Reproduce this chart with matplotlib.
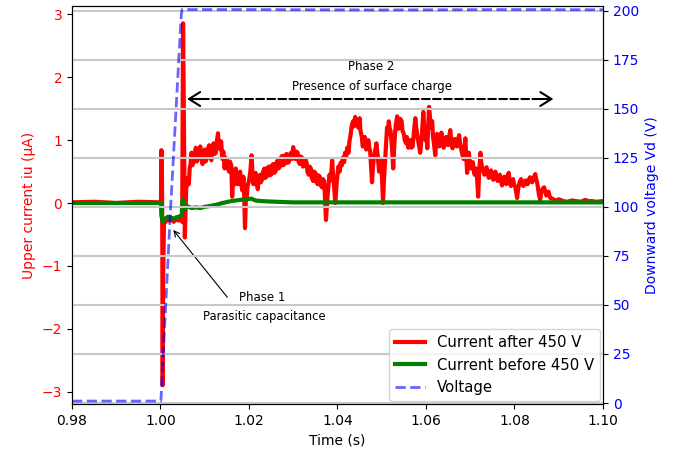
import matplotlib
matplotlib.use("Agg")
import matplotlib.pyplot as plt

# ---- data: (time s, current uA) ----
red_points = [
    (0.9800, 0.01), (0.9850, 0.02), (0.9900, 0.00), (0.9950, 0.02), (0.9998, 0.01),
    (1.0001, 0.00), (1.0002, 0.84), (1.0003, 0.80), (1.0004, -0.40), (1.0005, -2.90),
    (1.0006, -1.20), (1.0008, -0.25), (1.0012, -0.30), (1.0016, -0.22), (1.0020, -0.28),
    (1.0025, -0.24), (1.0030, -0.30), (1.0035, -0.23), (1.0040, -0.28), (1.0045, -0.25),
    (1.0049, -0.30), (1.0051, 2.86), (1.0053, 1.30), (1.0055, -0.55),
    (1.0058, 0.20), (1.0060, 0.35), (1.0062, 0.40), (1.0064, 0.30), (1.0066, 0.55),
    (1.0068, 0.62), (1.0070, 0.80), (1.0072, 0.60), (1.0075, 0.65), (1.0077, 0.78),
    (1.0080, 0.88), (1.0082, 0.66), (1.0085, 0.70), (1.0087, 0.82), (1.0090, 0.90),
    (1.0092, 0.74), (1.0095, 0.62), (1.0097, 0.80), (1.0100, 0.85), (1.0102, 0.66),
    (1.0105, 0.72), (1.0107, 0.86), (1.0110, 0.92), (1.0112, 0.74), (1.0115, 0.68),
    (1.0117, 0.86), (1.0120, 0.95), (1.0122, 0.78), (1.0125, 0.80), (1.0127, 0.96),
    (1.0130, 1.11), (1.0132, 0.90), (1.0135, 0.85), (1.0137, 0.98), (1.0140, 0.70),
    (1.0142, 0.82), (1.0145, 0.55), (1.0147, 0.72), (1.0150, 0.68), (1.0152, 0.58),
    (1.0155, 0.50), (1.0157, 0.66), (1.0160, 0.60), (1.0162, 0.10), (1.0164, 0.38),
    (1.0166, 0.45), (1.0168, 0.30), (1.0170, 0.55), (1.0172, 0.40), (1.0175, 0.30),
    (1.0177, 0.46), (1.0180, 0.50), (1.0182, 0.32), (1.0185, 0.20), (1.0187, 0.42),
    (1.0188, 0.40), (1.0191, -0.40), (1.0193, 0.05), (1.0195, 0.10), (1.0197, 0.28),
    (1.0200, 0.35), (1.0203, 0.50), (1.0206, 0.76), (1.0208, 0.45), (1.0210, 0.30),
    (1.0212, 0.44), (1.0215, 0.48), (1.0217, 0.32), (1.0220, 0.22), (1.0222, 0.40),
    (1.0225, 0.45), (1.0227, 0.33), (1.0230, 0.38), (1.0232, 0.50), (1.0235, 0.55),
    (1.0237, 0.40), (1.0240, 0.42), (1.0242, 0.56), (1.0245, 0.58), (1.0247, 0.44),
    (1.0250, 0.45), (1.0252, 0.60), (1.0255, 0.62), (1.0257, 0.48), (1.0260, 0.50),
    (1.0262, 0.64), (1.0265, 0.68), (1.0267, 0.55), (1.0270, 0.58), (1.0272, 0.72),
    (1.0275, 0.75), (1.0277, 0.60), (1.0280, 0.62), (1.0282, 0.76), (1.0285, 0.78),
    (1.0287, 0.64), (1.0290, 0.65), (1.0292, 0.76), (1.0295, 0.80), (1.0297, 0.70),
    (1.0300, 0.89), (1.0302, 0.74), (1.0305, 0.70), (1.0307, 0.82), (1.0310, 0.80),
    (1.0312, 0.66), (1.0315, 0.62), (1.0317, 0.74), (1.0320, 0.72), (1.0322, 0.58),
    (1.0325, 0.60), (1.0327, 0.70), (1.0330, 0.65), (1.0332, 0.50), (1.0335, 0.45),
    (1.0337, 0.58), (1.0340, 0.55), (1.0342, 0.40), (1.0345, 0.35), (1.0347, 0.50),
    (1.0350, 0.48), (1.0352, 0.34), (1.0355, 0.30), (1.0357, 0.44), (1.0360, 0.42),
    (1.0362, 0.28), (1.0365, 0.25), (1.0367, 0.38), (1.0370, 0.35), (1.0374, -0.27),
    (1.0378, 0.15), (1.0380, 0.30), (1.0382, 0.45), (1.0385, 0.36), (1.0388, 0.68),
    (1.0390, 0.45), (1.0392, 0.30), (1.0395, 0.00), (1.0398, 0.30), (1.0400, 0.45),
    (1.0402, 0.58), (1.0405, 0.50), (1.0407, 0.64), (1.0410, 0.60), (1.0412, 0.72),
    (1.0415, 0.65), (1.0417, 0.80), (1.0420, 0.75), (1.0422, 0.88), (1.0425, 0.80),
    (1.0427, 0.98), (1.0430, 1.10), (1.0432, 1.22), (1.0435, 1.30), (1.0437, 1.22),
    (1.0440, 1.37), (1.0442, 1.24), (1.0445, 1.30), (1.0447, 1.20), (1.0450, 1.35),
    (1.0452, 1.15), (1.0455, 1.05), (1.0457, 0.90), (1.0460, 0.95), (1.0462, 1.05),
    (1.0465, 0.85), (1.0467, 0.96), (1.0470, 1.00), (1.0472, 0.88), (1.0474, 0.82),
    (1.0478, 0.33), (1.0480, 0.55), (1.0482, 0.70), (1.0485, 0.82), (1.0488, 0.95),
    (1.0491, 0.75), (1.0494, 0.50), (1.0497, 0.64), (1.0499, 0.70), (1.0503, 0.00),
    (1.0505, 0.35), (1.0507, 0.60), (1.0510, 0.95), (1.0512, 1.20), (1.0514, 1.10),
    (1.0516, 1.30), (1.0518, 1.18), (1.0520, 1.15), (1.0523, 0.90), (1.0526, 0.55),
    (1.0528, 0.85), (1.0530, 1.10), (1.0532, 1.25), (1.0535, 1.38), (1.0537, 1.18),
    (1.0540, 1.20), (1.0542, 1.34), (1.0545, 1.30), (1.0547, 1.15), (1.0550, 1.10),
    (1.0552, 1.00), (1.0555, 0.95), (1.0557, 1.05), (1.0560, 0.88), (1.0562, 0.98),
    (1.0565, 1.00), (1.0567, 0.88), (1.0570, 0.90), (1.0573, 1.15), (1.0576, 1.35),
    (1.0578, 1.20), (1.0581, 1.05), (1.0584, 0.92), (1.0587, 0.80), (1.0589, 0.95),
    (1.0591, 1.10), (1.0594, 1.45), (1.0596, 1.20), (1.0599, 1.00), (1.0601, 1.12),
    (1.0603, 0.87), (1.0605, 1.20), (1.0607, 1.53), (1.0610, 1.30), (1.0612, 1.20),
    (1.0614, 1.30), (1.0616, 1.05), (1.0618, 0.95), (1.0621, 0.76), (1.0623, 0.95),
    (1.0625, 1.10), (1.0627, 0.98), (1.0630, 0.90), (1.0632, 1.02), (1.0635, 1.12),
    (1.0637, 0.98), (1.0640, 0.88), (1.0642, 0.98), (1.0645, 1.05), (1.0647, 0.94),
    (1.0650, 0.92), (1.0652, 1.04), (1.0655, 1.16), (1.0657, 1.00), (1.0660, 0.87),
    (1.0662, 0.96), (1.0665, 1.02), (1.0667, 0.94), (1.0670, 0.90), (1.0672, 1.00),
    (1.0675, 1.08), (1.0677, 0.95), (1.0680, 0.85), (1.0682, 0.78), (1.0685, 0.70),
    (1.0687, 0.88), (1.0689, 1.03), (1.0691, 0.75), (1.0693, 0.48), (1.0695, 0.66),
    (1.0697, 0.80), (1.0699, 0.66), (1.0701, 0.55), (1.0703, 0.62), (1.0706, 0.65),
    (1.0708, 0.52), (1.0710, 0.45), (1.0712, 0.52), (1.0714, 0.55), (1.0716, 0.35),
    (1.0718, 0.10), (1.0720, 0.45), (1.0723, 0.80), (1.0725, 0.65), (1.0727, 0.55),
    (1.0730, 0.50), (1.0732, 0.45), (1.0734, 0.52), (1.0737, 0.57), (1.0739, 0.48),
    (1.0742, 0.40), (1.0744, 0.46), (1.0747, 0.52), (1.0749, 0.44), (1.0752, 0.37),
    (1.0754, 0.44), (1.0757, 0.50), (1.0759, 0.42), (1.0762, 0.35), (1.0764, 0.40),
    (1.0767, 0.45), (1.0769, 0.36), (1.0772, 0.28), (1.0774, 0.36), (1.0777, 0.42),
    (1.0779, 0.34), (1.0782, 0.30), (1.0784, 0.40), (1.0787, 0.48), (1.0789, 0.36),
    (1.0792, 0.27), (1.0794, 0.32), (1.0797, 0.38), (1.0799, 0.30), (1.0802, 0.25),
    (1.0806, 0.08), (1.0808, 0.20), (1.0810, 0.28), (1.0812, 0.34), (1.0815, 0.38),
    (1.0817, 0.31), (1.0820, 0.27), (1.0822, 0.32), (1.0825, 0.36), (1.0827, 0.30),
    (1.0830, 0.30), (1.0832, 0.36), (1.0835, 0.41), (1.0837, 0.35), (1.0840, 0.33),
    (1.0843, 0.40), (1.0847, 0.46), (1.0849, 0.38), (1.0852, 0.30), (1.0855, 0.15),
    (1.0858, 0.05), (1.0860, 0.14), (1.0862, 0.20), (1.0865, 0.24), (1.0867, 0.25),
    (1.0870, 0.18), (1.0872, 0.12), (1.0875, 0.16), (1.0877, 0.18), (1.0879, 0.12),
    (1.0881, 0.08), (1.0885, 0.07), (1.0888, 0.06), (1.0891, 0.04), (1.0895, 0.04),
    (1.0900, 0.06), (1.0904, 0.05), (1.0910, 0.03), (1.0920, 0.02), (1.0930, 0.04),
    (1.0940, 0.03), (1.0950, 0.02), (1.0960, 0.05), (1.0967, 0.03), (1.0975, 0.03),
    (1.0985, 0.02), (1.1000, 0.03),
]

t_green = [0.9800, 0.9950, 1.0001, 1.0002, 1.0005, 1.0010, 1.0020, 1.0030, 1.0040, 1.0048,
           1.0050, 1.0052, 1.0055, 1.0060, 1.0070, 1.0080, 1.0090, 1.0100, 1.0110, 1.0125,
           1.0140, 1.0160, 1.0180, 1.0195, 1.0205, 1.0215, 1.0230, 1.0260, 1.0300, 1.0400,
           1.0600, 1.0800, 1.1000]
i_before = [0.00, 0.00, 0.00, -0.20, -0.30, -0.25, -0.22, -0.25, -0.22, -0.20,
            0.05, -0.05, -0.10, -0.05, -0.08, -0.07, -0.08, -0.06, -0.05, -0.03,
            0.00, 0.03, 0.05, 0.06, 0.07, 0.04, 0.03, 0.02, 0.01, 0.01,
            0.01, 0.01, 0.01]

t_volt = [0.9800, 1.0000, 1.0001, 1.0023, 1.0047, 1.0049, 1.0200, 1.0500, 1.0800, 1.1000]
voltage = [1.0, 1.0, 1.5, 100.0, 198.0, 200.5, 200.5, 200.3, 200.5, 200.4]

xticks = [0.98, 1.00, 1.02, 1.04, 1.06, 1.08, 1.10]
left_ticks = [-3, -2, -1, 0, 1, 2, 3]
right_ticks = [0, 25, 50, 75, 100, 125, 150, 175, 200]

t_red = [p[0] for p in red_points]
i_after = [p[1] for p in red_points]

# ---- figure ----
fig = plt.figure(figsize=(6.89, 4.49), dpi=100)
ax1 = fig.add_axes([0.1045, 0.1002, 0.7706, 0.8864])
ax2 = ax1.twinx()

l1, = ax1.plot(t_red, i_after, color='red', lw=3, label='Current after 450 V')
l2, = ax1.plot(t_green, i_before, color='green', lw=3, label='Current before 450 V')
l3, = ax2.plot(t_volt, voltage, color='blue', alpha=0.6, lw=2, ls='--', label='Voltage')

ax1.set_xlim(0.98, 1.10)
ax1.set_xticks(xticks)
ax1.set_xticklabels([f"{v:.2f}" for v in xticks])
ax1.set_ylim(-3.199, 3.135)
ax1.set_yticks(left_ticks)
ax1.tick_params(axis='y', labelcolor='red')
ax1.set_ylabel('Upper current iu (μA)', color='red')
ax1.set_xlabel('Time (s)')

ax2.set_ylim(-0.5, 202.3)
ax2.set_yticks(right_ticks)
ax2.tick_params(axis='y', labelcolor='blue')
ax2.set_ylabel('Downward voltage Vd (V)', color='blue')
ax2.grid(True, color='#c8c8c8', lw=1.5)

# Phase 2 double arrow: dashed shaft + solid open heads
y_arrow = 1.655
x_left, x_right = 1.0060, 1.0888
ax1.annotate('', xy=(x_left + 0.0030, y_arrow), xytext=(x_right - 0.0030, y_arrow),
             arrowprops=dict(arrowstyle='-', linestyle='--', lw=1.5, color='black',
                             shrinkA=0, shrinkB=0))
for tip, back in ((x_left, x_left + 0.0030), (x_right, x_right - 0.0030)):
    ax1.annotate('', xy=(tip, y_arrow), xytext=(back, y_arrow),
                 arrowprops=dict(arrowstyle='->,head_length=0.4,head_width=0.25',
                                 lw=1.5, color='black', mutation_scale=20,
                                 shrinkA=0, shrinkB=0))
ax1.text(1.0476, 2.165, 'Phase 2', ha='center', va='center', fontsize=8.5)
ax1.text(1.0478, 1.862, 'Presence of surface charge', ha='center', va='center', fontsize=8.5)

ax1.annotate('', xy=(1.0029, -0.43), xytext=(1.0151, -1.50),
             arrowprops=dict(arrowstyle='->', lw=0.8, color='black',
                             shrinkA=0, shrinkB=0))
ax1.text(1.0230, -1.51, 'Phase 1', ha='center', va='center', fontsize=8.5)
ax1.text(1.0234, -1.80, 'Parasitic capacitance', ha='center', va='center', fontsize=8.3)

ax2.legend(handles=[l1, l2, l3], loc='lower right', borderaxespad=0.2,
           fontsize=10.75)

fig.savefig('out.png', dpi=100)
